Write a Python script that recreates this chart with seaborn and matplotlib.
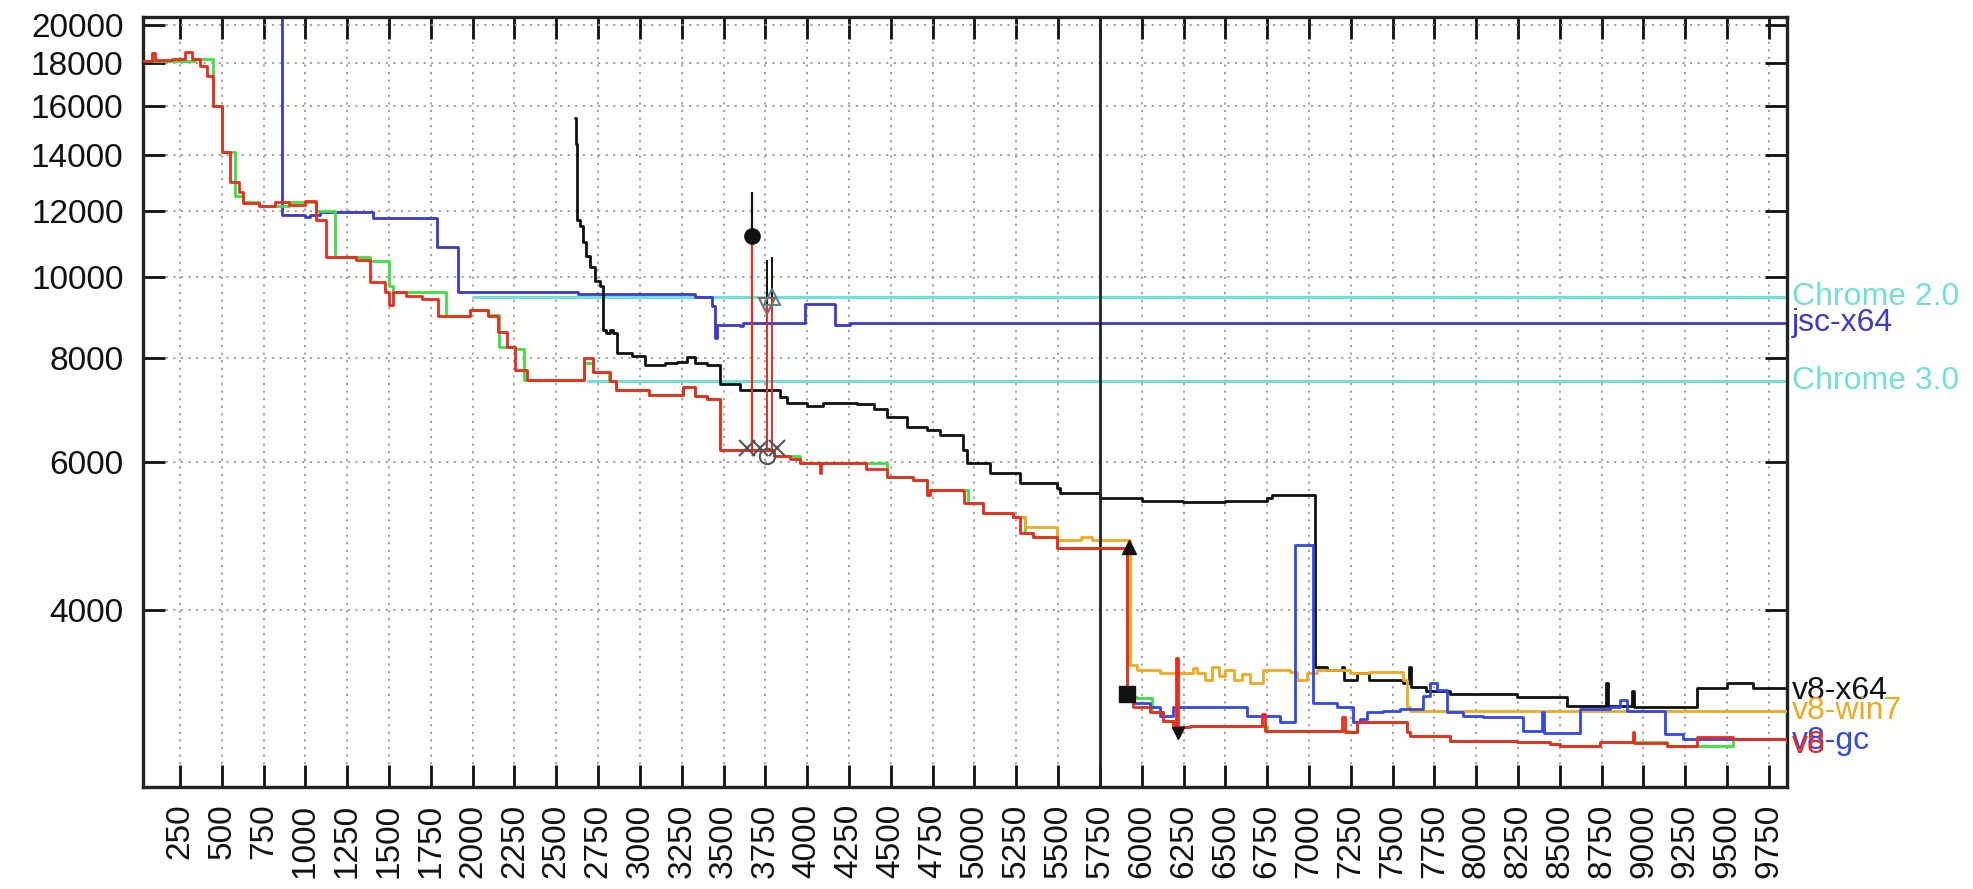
# benchmark scores over revisions, log y axis, gnuplot-ish look
import matplotlib
matplotlib.use("Agg")
import matplotlib.pyplot as plt
import seaborn as sns
import pandas as pd
from matplotlib.ticker import FixedLocator, NullLocator

sns.set_style("ticks")
plt.rcParams['font.family'] = ['Liberation Sans', 'DejaVu Sans']

# v8 (red)
v8_x = [29, 80, 100, 200, 280, 322, 370, 411, 447, 501, 549, 600, 627, 720, 820, 900,
        997, 1063, 1123, 1300, 1386, 1476, 1500, 1524, 1600, 1700, 1793, 1984, 2092,
        2150, 2205, 2253, 2325, 2666, 2719, 2821, 2857, 3054, 3257, 3330, 3400, 3479,
        3736, 3800, 3900, 3957, 4077, 4080, 4274, 4350, 4477, 4633, 4716, 4734, 4932,
        4940, 5051, 5231, 5272, 5350, 5494, 5912, 5948, 6050, 6127, 6190, 6205, 6215,
        6289, 6720, 6735, 7200, 7215, 7288, 7586, 7604, 7843, 8244, 8441, 8501, 8740,
        8935, 8945, 9141, 9321, 9536, 9858]
v8_y = [18100, 18500, 18150, 18200, 18550, 18200, 17850, 17370, 16000, 14100, 12970,
        12620, 12270, 12150, 12300, 12200, 12310, 11710, 10550, 10490, 9850, 9580, 9250,
        9605, 9500, 9400, 8970, 9140, 8970, 8600, 8255, 7750, 7537, 8000, 7690, 7500,
        7333, 7232, 7380, 7200, 7150, 6217, 6217, 6100, 6050, 5997, 5834, 5997, 5997,
        5900, 5770, 5720, 5490, 5560, 5540, 5370, 5225, 5168, 4943, 4890, 4745, 3170,
        3065, 3017, 2946, 2898, 3505, 2898, 2906, 3002, 2867, 2978, 2860, 2938, 2860,
        2829, 2791, 2783, 2768, 2753, 2783, 2860, 2770, 2753, 2821, 2806, 2776]

# green shadow run
gr_x = [29, 340, 447, 501, 579, 627, 720, 900, 1063, 1177, 1386, 1500, 1524, 1840,
        1984, 2092, 2160, 2253, 2305, 2666, 2719, 2815, 2857, 3054, 3257, 3330, 3400,
        3479, 3736, 3800, 3957, 4130, 4274, 4477, 4633, 4716, 4734, 4960, 5051, 5231,
        5300, 5350, 5494, 5912, 5972, 6060, 6127, 6211, 6289, 6750, 7246, 7288, 7586,
        7604, 7843, 8244, 8441, 8501, 8740, 9141, 9321, 9536, 9858]
gr_y = [18100, 18200, 16000, 14100, 12500, 12300, 12150, 12300, 12000, 10550, 10450,
        9750, 9605, 8970, 9140, 9000, 8255, 8190, 7537, 7900, 7690, 7500, 7333, 7232,
        7380, 7200, 7150, 6217, 6217, 6100, 5997, 5997, 5997, 5770, 5720, 5560, 5560,
        5370, 5225, 5168, 4943, 4890, 4745, 3150, 3140, 3017, 2946, 2898, 2906, 2867,
        2860, 2938, 2860, 2829, 2791, 2783, 2768, 2753, 2783, 2753, 2753, 2806, 2776]

# v8-x64 (black)
x64_x = [2612, 2618, 2624, 2640, 2660, 2680, 2701, 2730, 2761, 2779, 2800, 2821, 2839,
         2863, 2950, 3030, 3150, 3222, 3281, 3330, 3400, 3479, 3598, 3736, 3837, 3879,
         3999, 4095, 4298, 4400, 4477, 4597, 4716, 4794, 4932, 4956, 5093, 5272, 5494,
         5512, 5751, 6000, 6247, 6500, 6750, 6780, 7038, 7110, 7200, 7212, 7288, 7360,
         7562, 7600, 7612, 7700, 7843, 8244, 8441, 8543, 8775, 8790, 8930, 8945, 9141,
         9321, 9500, 9655, 9858]
x64_y = [15500, 14400, 11700, 11500, 11000, 10600, 10290, 9900, 9740, 8650, 8580, 8650,
         8580, 8120, 8050, 7855, 7900, 7920, 8030, 7900, 7855, 7440, 7333, 7333, 7190,
         7075, 7000, 7075, 7040, 6950, 6808, 6621, 6570, 6477, 6217, 5997, 5834, 5676,
         5600, 5521, 5448, 5400, 5385, 5400, 5448, 5490, 3419, 3390, 3419, 3298, 3360,
         3298, 3270, 3419, 3235, 3195, 3170, 3145, 3145, 3072, 3270, 3072, 3195, 3065,
         3057, 3225, 3270, 3225, 3217]

# v8-win7 (orange)
w7_x = [5231, 5300, 5494, 5640, 5700, 5930, 5972, 6109, 6307, 6331, 6380, 6420, 6460,
        6500, 6550, 6600, 6649, 6726, 6888, 6930, 6990, 7050, 7246, 7360, 7562, 7586,
        7604, 9858]
w7_y = [5168, 5028, 4850, 4890, 4850, 3440, 3390, 3360, 3405, 3360, 3298, 3420, 3330,
        3390, 3300, 3350, 3270, 3390, 3370, 3298, 3360, 3390, 3360, 3370, 3298, 3065,
        3030, 3030]

# v8-gc (blue)
gc_x = [5950, 6050, 6109, 6187, 6630, 6829, 6918, 7026, 7168, 7264, 7306, 7348, 7443,
        7544, 7682, 7724, 7766, 7826, 7921, 8041, 8280, 8393, 8405, 8621, 8800, 8860,
        8902, 9129, 9237, 9858]
gc_y = [3096, 3065, 2986, 3065, 2986, 2938, 4785, 3096, 3065, 2938, 2962, 3017, 3025,
        3040, 3155, 3270, 3210, 3017, 2986, 2978, 2867, 3017, 2850, 3040, 3065, 3121,
        3025, 2844, 2806, 2806]

# jsc-x64 (dark blue)
jsc_x = [860, 862, 1000, 1030, 1087, 1404, 1787, 1912, 2630, 3329, 3431, 3449, 3461,
         3598, 3616, 3987, 4166, 4256, 9858]
jsc_y = [21000, 11870, 11780, 11870, 11940, 11750, 10870, 9580, 9530, 9470, 9220, 8460,
         8770, 8730, 8820, 9270, 8770, 8820, 8820]

# reference levels
chrome2_x = [2002, 9858]
chrome2_y = [9470, 9470]
chrome3_x = [2690, 9858]
chrome3_y = [7500, 7500]

marker_line = 5750
y_ticks = [4000, 6000, 8000, 10000, 12000, 14000, 16000, 18000, 20000]
x_ticks = list(range(250, 10000, 250))

C_RED = '#ee2a1c'
C_GREEN = '#3ce03c'
C_BLACK = '#111111'
C_ORANGE = '#f2a81d'
C_BLUE = '#3048ee'
C_JSC = '#3a3ad0'
C_CYAN = '#6fe0d8'


def step(ax, xs, ys, color, lw=2.0, z=2):
    df = pd.DataFrame({'x': xs, 'y': ys})
    sns.lineplot(data=df, x='x', y='y', ax=ax, color=color, lw=lw, estimator=None,
                 sort=False, drawstyle='steps-post', zorder=z, legend=False)


fig = plt.figure(figsize=(19.74, 8.89), dpi=100)
ax = fig.add_axes([143 / 1974, 1 - 787 / 889, (1787 - 143) / 1974, (787 - 17) / 889])
ax.set_yscale('log')

step(ax, chrome2_x, chrome2_y, C_CYAN, lw=2.2, z=1)
step(ax, chrome3_x, chrome3_y, C_CYAN, lw=2.2, z=1)
step(ax, jsc_x, jsc_y, C_JSC, z=2)
step(ax, gr_x, gr_y, C_GREEN, z=2)
step(ax, x64_x, x64_y, C_BLACK, z=3)
step(ax, w7_x, w7_y, C_ORANGE, z=3)
step(ax, gc_x, gc_y, C_BLUE, z=3)
step(ax, v8_x, v8_y, C_RED, z=4)

ax.axvline(marker_line, color='#222222', lw=2, zorder=3)

# bisect markers around 3700
ax.vlines(3670, 11180, 12650, color=C_BLACK, lw=1.6, zorder=5)
ax.vlines(3670, 6217, 11180, color=C_RED, lw=1.6, zorder=5)
ax.vlines([3760, 3790], [9220, 9450], [10490, 10550], color=C_BLACK, lw=1.4, zorder=5)
ax.vlines([3760, 3790], [6217, 6217], [9220, 9450], color=C_RED, lw=1.4, zorder=5)
ax.plot([3670], [11180], 'o', color=C_BLACK, ms=11, zorder=6)
ax.plot([3790], [9450], '^', mfc='none', mec='#558888', ms=11, mew=1.5, zorder=6)
ax.plot([3760], [9220], 'v', mfc='none', mec='#886666', ms=11, mew=1.5, zorder=6)
ax.plot([3640, 3718, 3819], [6250, 6250, 6250], 'x', color='#555555', ms=11, mew=1.5, zorder=6)
ax.plot([3760], [6100], 'o', mfc='none', mec='#555555', ms=11, mew=1.5, zorder=6)
ax.plot([5925], [4760], '^', color=C_BLACK, ms=10, zorder=6)
ax.plot([5912], [3170], 's', color=C_BLACK, ms=12, zorder=6)
ax.plot([6215], [2850], 'v', color=C_BLACK, ms=9, zorder=6)

ax.set_xlim(29, 9858)
ax.set_ylim(2456, 20450)
ax.yaxis.set_major_locator(FixedLocator(y_ticks))
ax.yaxis.set_minor_locator(NullLocator())
ax.set_yticklabels([str(t) for t in y_ticks])
ax.xaxis.set_major_locator(FixedLocator(x_ticks))
ax.set_xticklabels([str(t) for t in x_ticks], rotation=90)
ax.set_xlabel('')
ax.set_ylabel('')

ax.grid(True, which='major', color='#9a9a9a', linestyle=(0, (1.2, 3)), lw=1.3)
ax.tick_params(direction='in', top=True, right=True, length=16, width=2,
               labelsize=24, colors='#111111')
ax.tick_params(axis='x', pad=12)
ax.tick_params(axis='y', pad=14)
for s in ax.spines.values():
    s.set_linewidth(2.4)
    s.set_color('#222222')

# end labels
lab_x = 9888
ends = [('Chrome 2.0', chrome2_y[-1], C_CYAN), ('jsc-x64', jsc_y[-1], C_JSC),
        ('Chrome 3.0', chrome3_y[-1], C_CYAN), ('v8-x64', x64_y[-1] - 20, C_BLACK),
        ('v8-win7', w7_y[-1], C_ORANGE), ('v8-gc', gc_y[-1] - 20, C_BLUE),
        ('v8', v8_y[-1] - 20, C_RED)]
for name, yv, col in ends:
    ax.text(lab_x, yv, name, color=col, fontsize=23, ha='left', va='center',
            clip_on=False)

fig.savefig('out.png', dpi=100)
